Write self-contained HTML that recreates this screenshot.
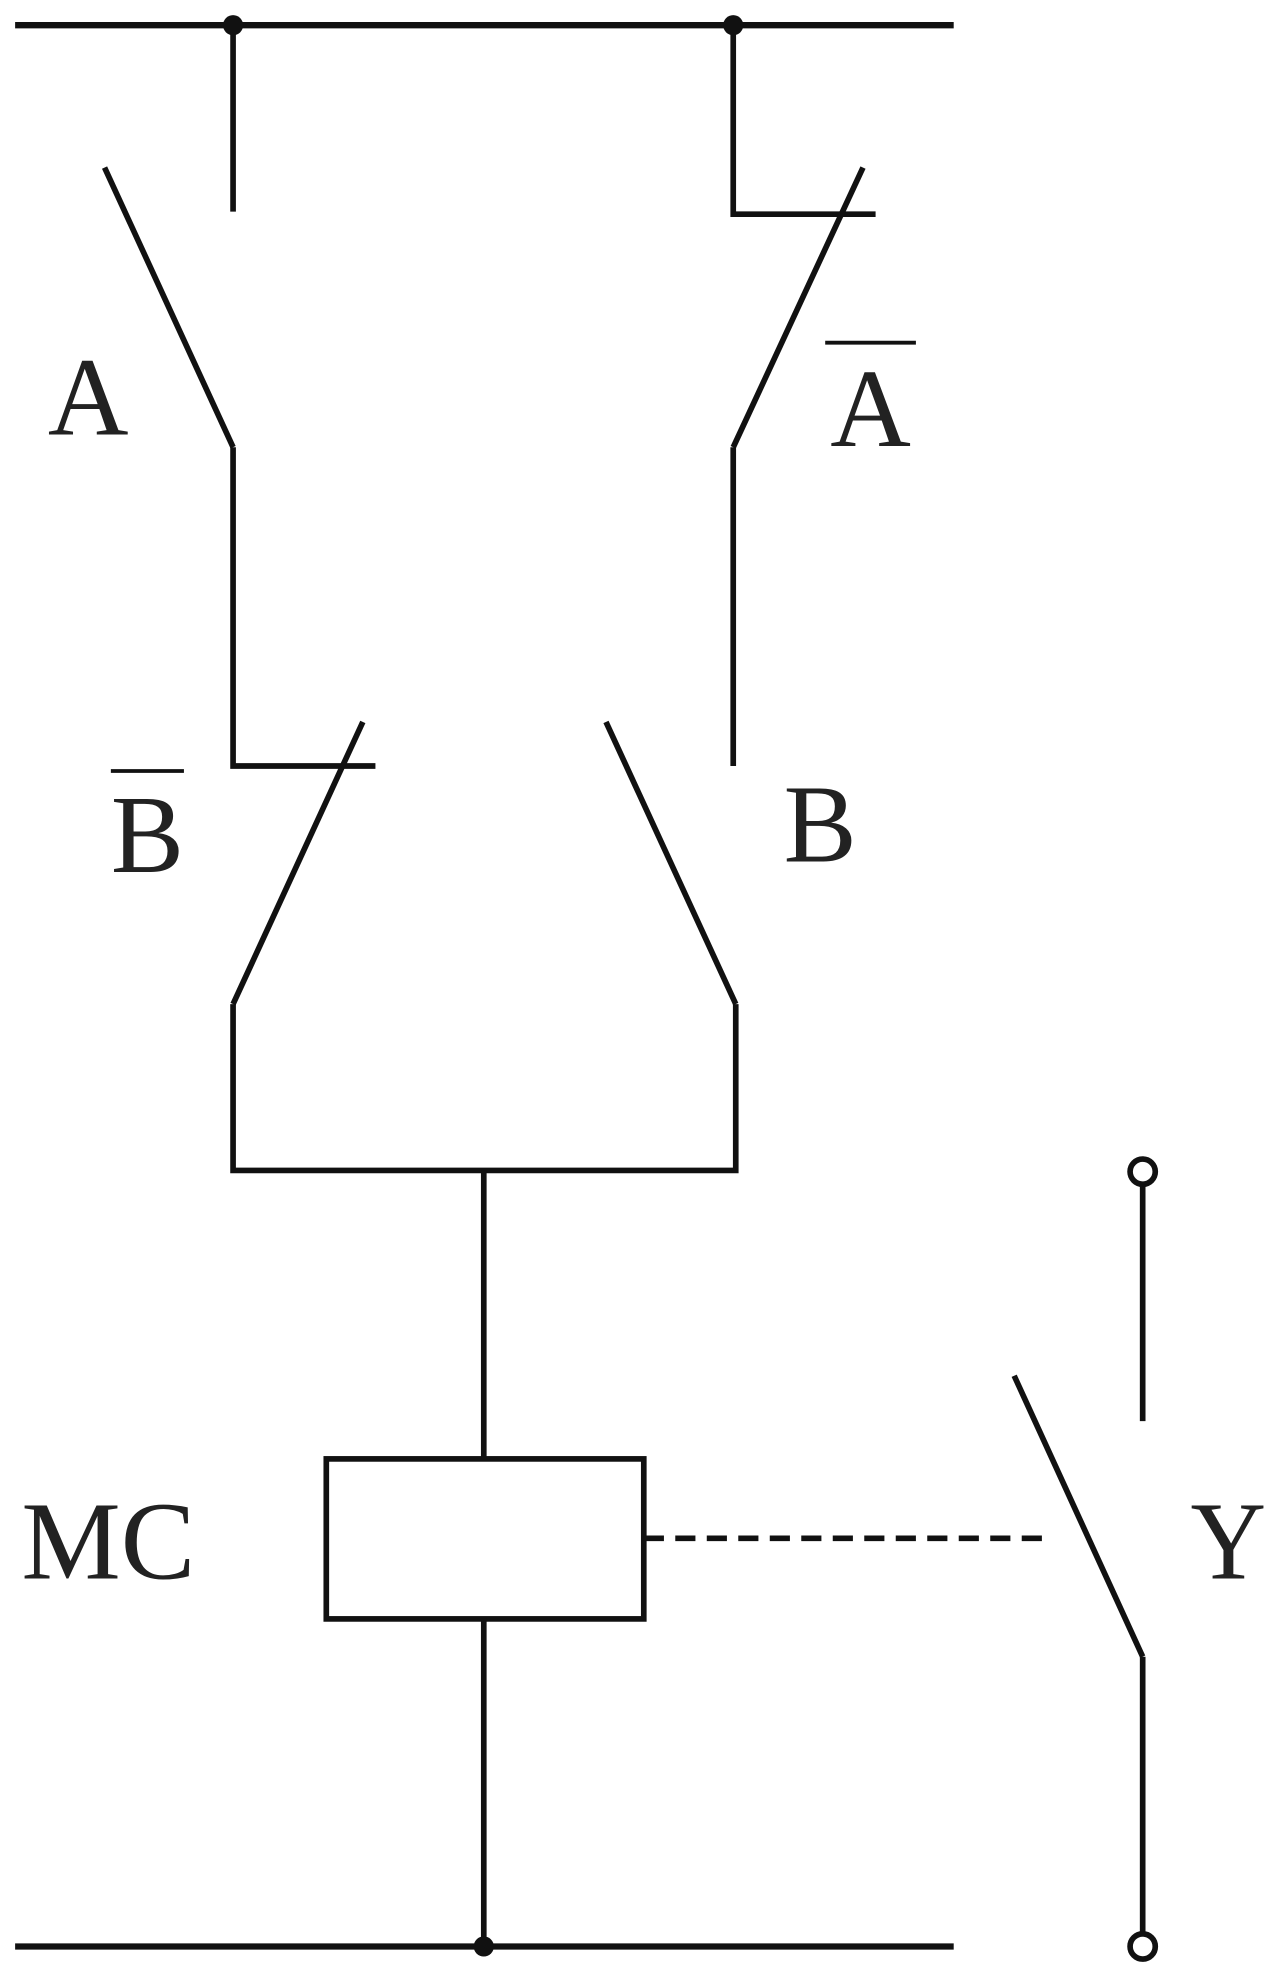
<!DOCTYPE html>
<html><head><meta charset="utf-8"><style>html,body{margin:0;padding:0;background:#fff}svg{display:block}</style></head>
<body>
<svg width="1280" height="1983" viewBox="0 0 1016 1574" preserveAspectRatio="none" xmlns="http://www.w3.org/2000/svg">
<g stroke="#111" stroke-width="4.5" fill="none" stroke-linecap="butt">
<line x1="12" y1="20" x2="757" y2="20" stroke-width="5"/>
<line x1="12" y1="1545" x2="757" y2="1545" stroke-width="5"/>
<line x1="185" y1="20" x2="185" y2="168"/>
<line x1="83" y1="133" x2="185" y2="355"/>
<polyline points="185,355 185,608 298,608"/>
<line x1="288" y1="573" x2="185" y2="797"/>
<polyline points="185,797 185,929 584,929 584,797"/>
<polyline points="582,20 582,170 695,170"/>
<line x1="685" y1="133" x2="582" y2="355"/>
<line x1="582" y1="355" x2="582" y2="608"/>
<line x1="481" y1="573" x2="584" y2="797"/>
<line x1="384" y1="929" x2="384" y2="1158"/>
<rect x="259" y="1158" width="252" height="127"/>
<line x1="384" y1="1285" x2="384" y2="1545"/>
<line x1="511" y1="1221" x2="830" y2="1221" stroke-dasharray="16,9"/>
<circle cx="907" cy="930" r="10"/>
<line x1="907" y1="940" x2="907" y2="1128"/>
<line x1="805" y1="1092" x2="907" y2="1315"/>
<line x1="907" y1="1315" x2="907" y2="1535"/>
<circle cx="907" cy="1545" r="10"/>
<line x1="655" y1="272" x2="727" y2="272" stroke-width="3"/>
<line x1="88" y1="612" x2="146" y2="612" stroke-width="3"/>
</g>
<g fill="#111">
<circle cx="185" cy="20" r="8"/><circle cx="582" cy="20" r="8"/><circle cx="384" cy="1545" r="8"/>
</g>
<g font-family="Liberation Serif, serif" font-size="88" fill="#222">
<text x="38" y="345" textLength="64" lengthAdjust="spacingAndGlyphs">A</text>
<text x="659" y="354" textLength="64" lengthAdjust="spacingAndGlyphs">A</text>
<text x="88" y="692" textLength="58" lengthAdjust="spacingAndGlyphs">B</text>
<text x="622" y="684" textLength="58" lengthAdjust="spacingAndGlyphs">B</text>
<text x="17" y="1253" textLength="138" lengthAdjust="spacingAndGlyphs">MC</text>
<text x="945" y="1253" textLength="60" lengthAdjust="spacingAndGlyphs">Y</text>
</g>
</svg>
</body></html>
